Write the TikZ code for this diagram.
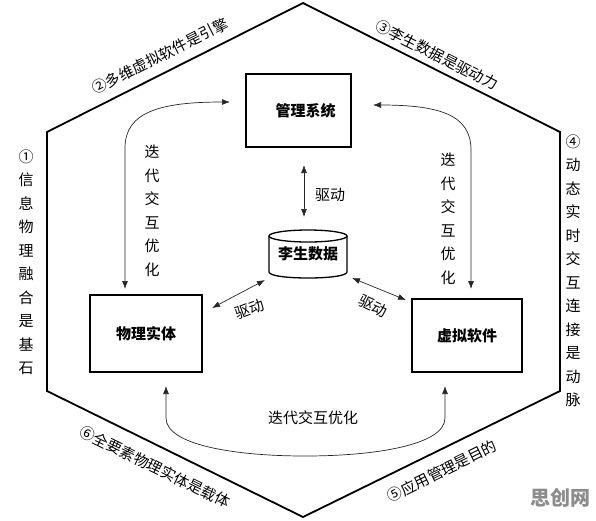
\documentclass[tikz,border=0pt]{standalone}
\usepackage{fontspec}
\setmainfont{Noto Sans CJK SC}
\usetikzlibrary{arrows.meta}
\tikzset{
  hexline/.style={line width=1.8pt, line join=miter},
  boxnode/.style={draw, line width=1.6pt, font=\bfseries\fontsize{15}{18}\selectfont, inner sep=0pt},
  conn/.style={line width=0.7pt, draw=black!85, {Latex[length=8pt,width=6pt]}-{Latex[length=8pt,width=6pt]}},
  lbl/.style={font=\fontsize{15}{18}\selectfont, inner sep=0pt},
  vlbl/.style={font=\fontsize{15}{23.5}\selectfont, align=center, inner sep=0pt},
}
\begin{document}
\begin{tikzpicture}[x=1pt,y=-1pt]
\useasboundingbox[fill=white] (0,0) rectangle (596,520);
% hexagon
\coordinate (h1) at (303,3);
\coordinate (h2) at (560,132);
\coordinate (h3) at (560,391);
\coordinate (h4) at (303,517);
\coordinate (h5) at (47,391);
\coordinate (h6) at (47,132);
\draw[hexline] (h1) -- (h2) -- (h3) -- (h4) -- (h5) -- (h6) -- cycle;

% edge labels
\node[lbl, rotate=26.7] (e2) at (160,56) {②多维虚拟软件是引擎};
\node[lbl, rotate=-26.7] (e3) at (437,55) {③李生数据是驱动力};
\node[lbl, rotate=-26.2] (e6) at (155,467) {⑥全要素物理实体是载体};
\node[lbl, rotate=26.2] (e5) at (442,471) {⑤应用管理是目的};
\node[vlbl] (e1) at (26,262) {①\\信\\息\\物\\理\\融\\合\\是\\基\\石};
\node[vlbl] (e4) at (573,271) {④\\动\\态\\实\\时\\交\\互\\连\\接\\是\\动\\脉};

% boxes
\node[boxnode, minimum width=105pt, minimum height=73pt] (mgmt) at (298.5,110.5) {\hspace*{14pt}管理系统};
\node[boxnode, minimum width=112pt, minimum height=77pt] (phys) at (146,333.5) {物理实体};
\node[boxnode, minimum width=110pt, minimum height=73pt] (virt) at (467,335.5) {虚拟软件};

% cylinder
\node[font=\bfseries\fontsize{15}{18}\selectfont, minimum width=78pt, minimum height=48pt, inner sep=0pt] (data) at (308,254) {李生数据};
\draw[line width=1.3pt] (308,236) ellipse [x radius=39, y radius=6];
\draw[line width=1.3pt] (269,236) -- (269,272) .. controls (269,280) and (347,280) .. (347,272) -- (347,236);

% drive arrows
\coordinate (m1) at (304,165);
\coordinate (m2) at (304,217);
\draw[conn] (m1) -- (m2);
\node[lbl] (d1) at (330,195) {驱动};
\coordinate (l1) at (212,308);
\coordinate (l2) at (265,280);
\draw[conn] (l1) -- (l2);
\node[lbl, rotate=20] (d2) at (250,309) {驱动};
\coordinate (r1) at (352,278);
\coordinate (r2) at (406,300);
\draw[conn] (r1) -- (r2);
\node[lbl, rotate=-25] (d3) at (373,306) {驱动};

% iterative curves
\coordinate (a1) at (230,102);
\coordinate (a2) at (125,289);
\draw[conn] (a1) .. controls (160,102) and (125,112) .. (125,148) -- (a2);
\node[vlbl] (t1) at (152,211) {迭\\代\\交\\互\\优\\化};

\coordinate (b1) at (373,105);
\coordinate (b2) at (471,289);
\draw[conn] (b1) .. controls (440,105) and (471,115) .. (471,150) -- (b2);
\node[vlbl] (t2) at (448,219) {迭\\代\\交\\互\\优\\化};

\coordinate (c1) at (166,386);
\coordinate (c2) at (445,386);
\draw[conn] (c1) -- (166,418) .. controls (166,445) and (235,456) .. (305,456) .. controls (375,456) and (445,445) .. (445,418) -- (c2);
\node[lbl] (t3) at (313,418) {迭代交互优化};

% watermark
\node[font=\bfseries\fontsize{20}{22}\selectfont, text=black!45, inner sep=0pt] (wm) at (560,498) {思创网};
\end{tikzpicture}
\end{document}
